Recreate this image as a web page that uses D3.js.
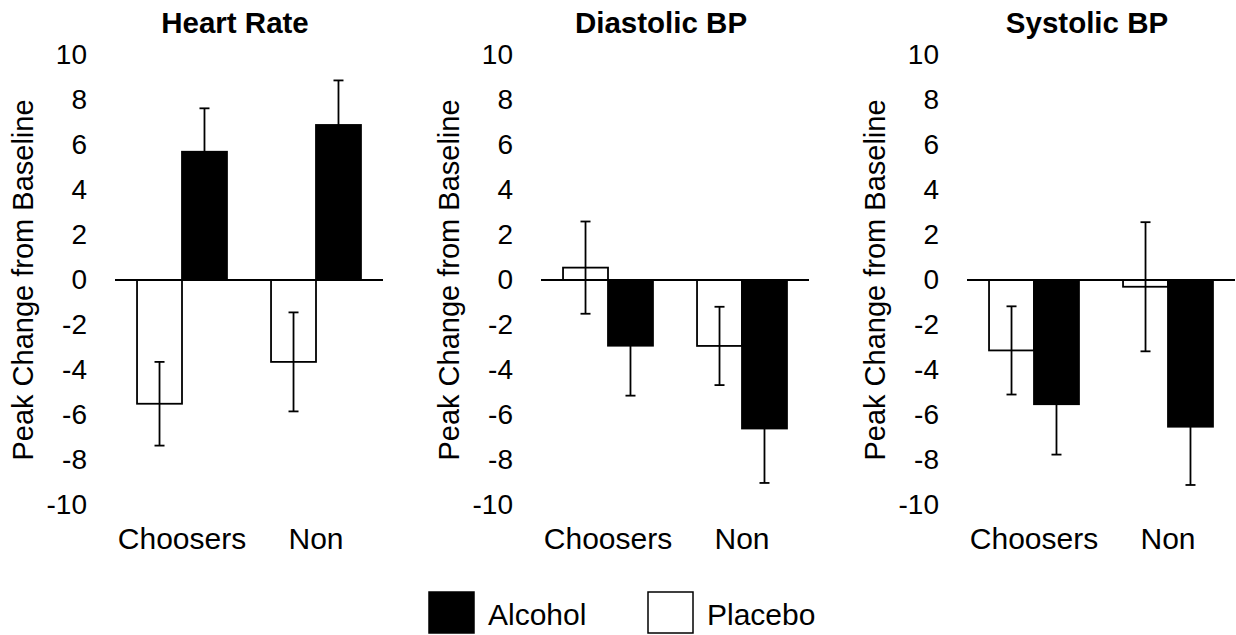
<!DOCTYPE html>
<html>
<head>
<meta charset="utf-8">
<script src="https://cdn.jsdelivr.net/npm/d3@7"></script>
<style>
  body { margin: 0; background: #fff; }
  text { font-family: "Liberation Sans", Arial, sans-serif; fill: #000; }
</style>
</head>
<body>
<script>
// values
var categories = ["Choosers", "Non"];
var series = ["Placebo", "Alcohol"];
var panelTitles = ["Heart Rate", "Diastolic BP", "Systolic BP"];
var yTicks = [-10, -8, -6, -4, -2, 0, 2, 4, 6, 8, 10];

var heartRatePlacebo = [-5.5, -3.64];
var heartRatePlaceboErr = [1.86, 2.2];
var heartRateAlcohol = [5.7, 6.89];
var heartRateAlcoholErr = [1.93, 1.98];

var diastolicPlacebo = [0.55, -2.93];
var diastolicPlaceboErr = [2.05, 1.74];
var diastolicAlcohol = [-2.92, -6.6];
var diastolicAlcoholErr = [2.22, 2.42];

var systolicPlacebo = [-3.13, -0.3];
var systolicPlaceboErr = [1.96, 2.87];
var systolicAlcohol = [-5.52, -6.52];
var systolicAlcoholErr = [2.24, 2.59];

var panels = [
  {title: panelTitles[0], placebo: heartRatePlacebo, placeboErr: heartRatePlaceboErr, alcohol: heartRateAlcohol, alcoholErr: heartRateAlcoholErr},
  {title: panelTitles[1], placebo: diastolicPlacebo, placeboErr: diastolicPlaceboErr, alcohol: diastolicAlcohol, alcoholErr: diastolicAlcoholErr},
  {title: panelTitles[2], placebo: systolicPlacebo, placeboErr: systolicPlaceboErr, alcohol: systolicAlcohol, alcoholErr: systolicAlcoholErr}
];

var width = 1236, height = 635;
var panelLeft = [115, 541, 967];   // left edge of each plot area
var plotWidth = 268;
var fill = {Placebo: "#fff", Alcohol: "#000"};

var svg = d3.select("body").append("svg")
  .attr("width", width).attr("height", height);

var y = d3.scaleLinear().domain([-10, 10]).range([505, 55]);

var x = d3.scaleBand().domain(categories).range([0, plotWidth]);
var xs = d3.scaleBand().domain(series).range([0, x.bandwidth()]).paddingOuter(0.49);

panels.forEach(function(p, k) {
  var g = svg.append("g").attr("transform", "translate(" + panelLeft[k] + ",0)");

  // y axis: labels only, plain hyphen for negatives
  var yAxis = g.append("g")
    .call(d3.axisLeft(y).tickValues(yTicks).tickSize(0).tickPadding(28)
      .tickFormat(function(d) { return String(d); }));
  yAxis.select(".domain").remove();
  yAxis.selectAll("text").attr("font-size", 28).attr("font-family", null);

  g.append("text")
    .attr("transform", "translate(-92," + y(0) + ") rotate(-90)")
    .attr("text-anchor", "middle")
    .attr("dy", "0.35em")
    .attr("font-size", 29)
    .text("Peak Change from Baseline");

  g.append("text")
    .attr("x", 120).attr("y", 33)
    .attr("text-anchor", "middle")
    .attr("font-size", 29.5)
    .attr("font-weight", "bold")
    .text(p.title);

  var rows = [];
  categories.forEach(function(c, i) {
    rows.push({cat: c, s: "Placebo", v: p.placebo[i], e: p.placeboErr[i]});
    rows.push({cat: c, s: "Alcohol", v: p.alcohol[i], e: p.alcoholErr[i]});
  });

  g.selectAll("rect.bar").data(rows).enter().append("rect")
    .attr("class", "bar")
    .attr("x", function(d) { return x(d.cat) + xs(d.s); })
    .attr("width", xs.bandwidth())
    .attr("y", function(d) { return y(Math.max(0, d.v)); })
    .attr("height", function(d) { return Math.abs(y(d.v) - y(0)); })
    .attr("fill", function(d) { return fill[d.s]; })
    .attr("stroke", "#000")
    .attr("stroke-width", 1.8);

  // error bars
  var eb = g.selectAll("g.err").data(rows).enter().append("g")
    .attr("class", "err")
    .attr("transform", function(d) { return "translate(" + (x(d.cat) + xs(d.s) + xs.bandwidth() / 2) + ",0)"; })
    .attr("stroke", "#000").attr("stroke-width", 1.8);
  eb.append("line")
    .attr("y1", function(d) { return y(d.v + d.e); })
    .attr("y2", function(d) { return y(d.v - d.e); });
  eb.append("line").attr("x1", -5).attr("x2", 5)
    .attr("y1", function(d) { return y(d.v + d.e); })
    .attr("y2", function(d) { return y(d.v + d.e); });
  eb.append("line").attr("x1", -5).attr("x2", 5)
    .attr("y1", function(d) { return y(d.v - d.e); })
    .attr("y2", function(d) { return y(d.v - d.e); });

  // zero line
  g.append("line")
    .attr("x1", 0).attr("x2", plotWidth)
    .attr("y1", y(0)).attr("y2", y(0))
    .attr("stroke", "#000").attr("stroke-width", 2);

  var xAxis = g.append("g")
    .attr("transform", "translate(0,528)")
    .call(d3.axisBottom(x).tickSize(0).tickPadding(0));
  xAxis.select(".domain").remove();
  xAxis.selectAll("text").attr("font-size", 30).attr("font-family", null);
});

// legend
var legendX = [429, 648];
var legendSeries = ["Alcohol", "Placebo"];
var lg = svg.selectAll("g.legend").data(legendSeries).enter().append("g")
  .attr("class", "legend")
  .attr("transform", function(d, i) { return "translate(" + legendX[i] + ",592)"; });
lg.append("rect")
  .attr("width", 45).attr("height", 41)
  .attr("fill", function(d) { return fill[d]; })
  .attr("stroke", "#000").attr("stroke-width", 1.5);
lg.append("text")
  .attr("x", 59).attr("y", 33)
  .attr("font-size", 30)
  .text(function(d) { return d; });
</script>
</body>
</html>
